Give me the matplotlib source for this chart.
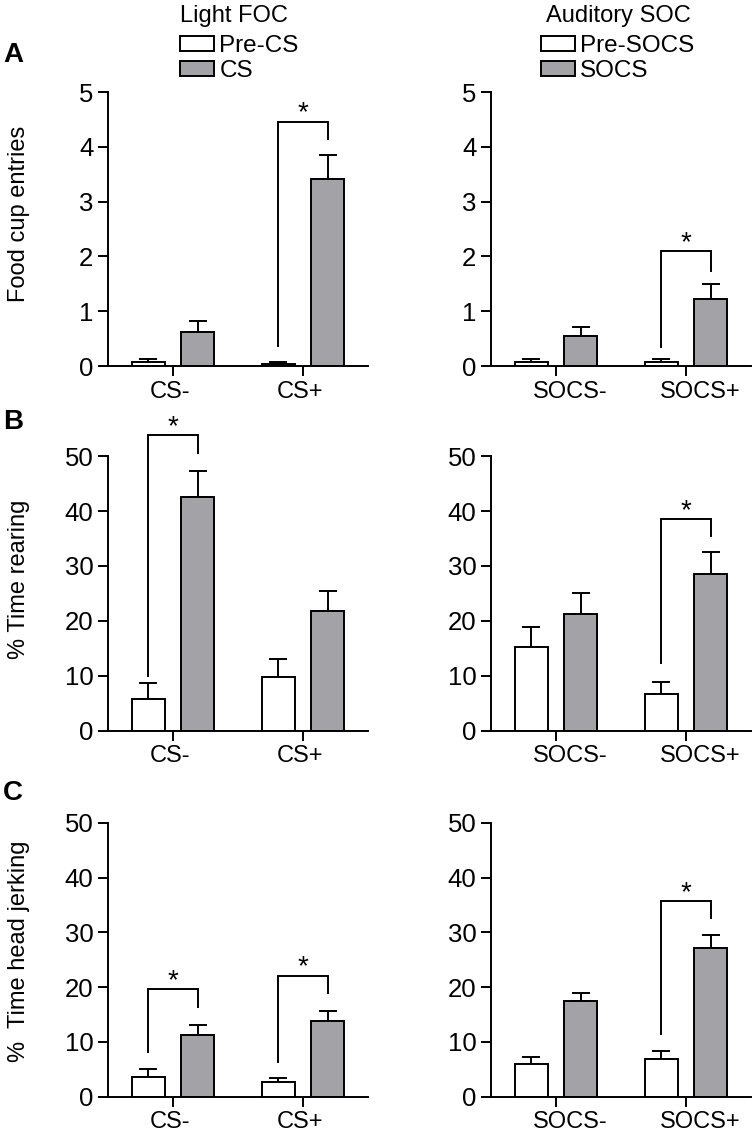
import matplotlib
matplotlib.use('Agg')
import matplotlib.pyplot as plt
import matplotlib.transforms as mtransforms
import numpy as np

plt.rcParams['font.family'] = ['Liberation Sans', 'DejaVu Sans']

# ---------------- data ----------------
cats_light = ['CS-', 'CS+']
cats_aud = ['SOCS-', 'SOCS+']
legend_light = ['Pre-CS', 'CS']
legend_aud = ['Pre-SOCS', 'SOCS']
title_light = 'Light FOC'
title_aud = 'Auditory SOC'

# Food cup entries
food_light_pre = [0.08, 0.04]
food_light_pre_err = [0.05, 0.03]
food_light_cs = [0.63, 3.42]
food_light_cs_err = [0.20, 0.43]
food_aud_pre = [0.08, 0.08]
food_aud_pre_err = [0.05, 0.05]
food_aud_cs = [0.55, 1.22]
food_aud_cs_err = [0.17, 0.28]

# % Time rearing
rear_light_pre = [5.75, 9.7]
rear_light_pre_err = [2.85, 3.4]
rear_light_cs = [42.5, 21.8]
rear_light_cs_err = [4.8, 3.6]
rear_aud_pre = [15.3, 6.7]
rear_aud_pre_err = [3.6, 2.2]
rear_aud_cs = [21.3, 28.6]
rear_aud_cs_err = [3.8, 4.0]

# % Time head jerking
jerk_light_pre = [3.65, 2.6]
jerk_light_pre_err = [1.35, 0.8]
jerk_light_cs = [11.3, 13.9]
jerk_light_cs_err = [1.7, 1.8]
jerk_aud_pre = [6.0, 6.8]
jerk_aud_pre_err = [1.2, 1.5]
jerk_aud_cs = [17.4, 27.1]
jerk_aud_cs_err = [1.6, 2.4]

# significance brackets: (group index, left leg bottom, top, right leg bottom)
br_food_light = [(1, 0.37, 4.46, 4.14)]
br_food_aud = [(1, 0.35, 2.10, 1.74)]
br_rear_light = [(0, 10.0, 53.8, 50.6)]
br_rear_aud = [(1, 12.4, 38.5, 35.5)]
br_jerk_light = [(0, 8.2, 19.6, 16.4), (1, 6.4, 22.1, 19.0)]
br_jerk_aud = [(1, 11.4, 35.7, 32.6)]

ylabels = ['Food cup entries', '% Time rearing', '%  Time head jerking']
yticks_food = [0, 1, 2, 3, 4, 5]
yticks_pct = [0, 10, 20, 30, 40, 50]

# ---------------- style ----------------
GRAY = '#a3a3a7'
LW = 1.4
FS = 17
TICKFS = 18.5
W = 0.25
OFF = 0.19

fig = plt.figure(figsize=(7.56, 11.34), dpi=100)

col_x = [108 / 756, 491 / 756]
col_w = 260 / 756
rows = [(0.6772, 0.2416), (0.3557, 0.2421), (0.0329, 0.2416)]
ylabel_y = [0.555, 0.55, 0.53]
xlabel_shift = [-3, 14]   # pixels


def panel(ax, cats, pre, pre_err, cs, cs_err, brackets, yticks, col):
    x = np.arange(len(cats))
    ax.errorbar(x - OFF, pre, yerr=[np.zeros(len(pre)), pre_err], fmt='none',
                ecolor='black', elinewidth=LW, capsize=6.8, capthick=LW, zorder=1)
    ax.errorbar(x + OFF, cs, yerr=[np.zeros(len(cs)), cs_err], fmt='none',
                ecolor='black', elinewidth=LW, capsize=6.8, capthick=LW, zorder=1)
    b1 = ax.bar(x - OFF, pre, W, color='white', edgecolor='black', linewidth=LW, zorder=2)
    b2 = ax.bar(x + OFF, cs, W, color=GRAY, edgecolor='black', linewidth=LW, zorder=2)
    for g, lb, top, rb in brackets:
        xl, xr = g - OFF, g + OFF
        ax.plot([xl, xl, xr, xr], [lb, top, top, rb], color='black', lw=LW,
                clip_on=False, zorder=3, solid_joinstyle='miter')
        ax.annotate('*', xy=(g, top), xytext=(0, 0.8), textcoords='offset points',
                    ha='center', va='baseline', fontsize=20, annotation_clip=False)
    ax.set_xlim(-0.5, 1.5)
    ax.set_ylim(yticks[0], yticks[-1])
    ax.set_yticks(yticks)
    ax.set_xticks(x)
    ax.set_xticklabels(cats, fontsize=FS)
    for s in ['top', 'right']:
        ax.spines[s].set_visible(False)
    for s in ['left', 'bottom']:
        ax.spines[s].set_linewidth(LW)
    ax.tick_params(axis='both', direction='out', length=7, width=LW)
    ax.tick_params(axis='y', pad=3.5, labelsize=TICKFS)
    ax.tick_params(axis='x', pad=3.5)
    shift = mtransforms.ScaledTranslation(xlabel_shift[col] / 100, 0, fig.dpi_scale_trans)
    for lab in ax.get_xticklabels():
        lab.set_transform(lab.get_transform() + shift)
    return b1, b2


data = [
    [(cats_light, food_light_pre, food_light_pre_err, food_light_cs, food_light_cs_err, br_food_light, yticks_food),
     (cats_aud, food_aud_pre, food_aud_pre_err, food_aud_cs, food_aud_cs_err, br_food_aud, yticks_food)],
    [(cats_light, rear_light_pre, rear_light_pre_err, rear_light_cs, rear_light_cs_err, br_rear_light, yticks_pct),
     (cats_aud, rear_aud_pre, rear_aud_pre_err, rear_aud_cs, rear_aud_cs_err, br_rear_aud, yticks_pct)],
    [(cats_light, jerk_light_pre, jerk_light_pre_err, jerk_light_cs, jerk_light_cs_err, br_jerk_light, yticks_pct),
     (cats_aud, jerk_aud_pre, jerk_aud_pre_err, jerk_aud_cs, jerk_aud_cs_err, br_jerk_aud, yticks_pct)],
]

handles = {}
for r, (yb, h) in enumerate(rows):
    for c in range(2):
        ax = fig.add_axes([col_x[c], yb, col_w, h])
        hs = panel(ax, *data[r][c], col=c)
        if c == 0:
            ax.set_ylabel(ylabels[r], fontsize=FS)
            ax.yaxis.set_label_coords(-0.30, ylabel_y[r])
        if r == 0:
            handles[c] = (ax, hs)

# legends with titles
for c, (labels, title, lx, tx) in enumerate([(legend_light, title_light, 180 / 756, 180 / 756),
                                             (legend_aud, title_aud, 541 / 756, 546 / 756)]):
    ax, hs = handles[c]
    fig.text(tx, 1 - 22 / 1134, title, fontsize=FS, ha='left', va='baseline')
    ax.legend(hs, labels, loc='upper left',
              bbox_to_anchor=(lx, 1 - 35 / 1134), bbox_transform=fig.transFigure,
              frameon=False, fontsize=17.5,
              handlelength=1.4, handleheight=0.55, handletextpad=0.22,
              labelspacing=0.12, borderpad=0, borderaxespad=0)

# panel letters
for letter, yc in [('A', 1 - 55 / 1134), ('B', 1 - 422 / 1134), ('C', 1 - 793 / 1134)]:
    fig.text(3 / 756, yc, letter, fontsize=20, fontweight='bold', ha='left', va='center')

fig.savefig('out.png', dpi=100)
